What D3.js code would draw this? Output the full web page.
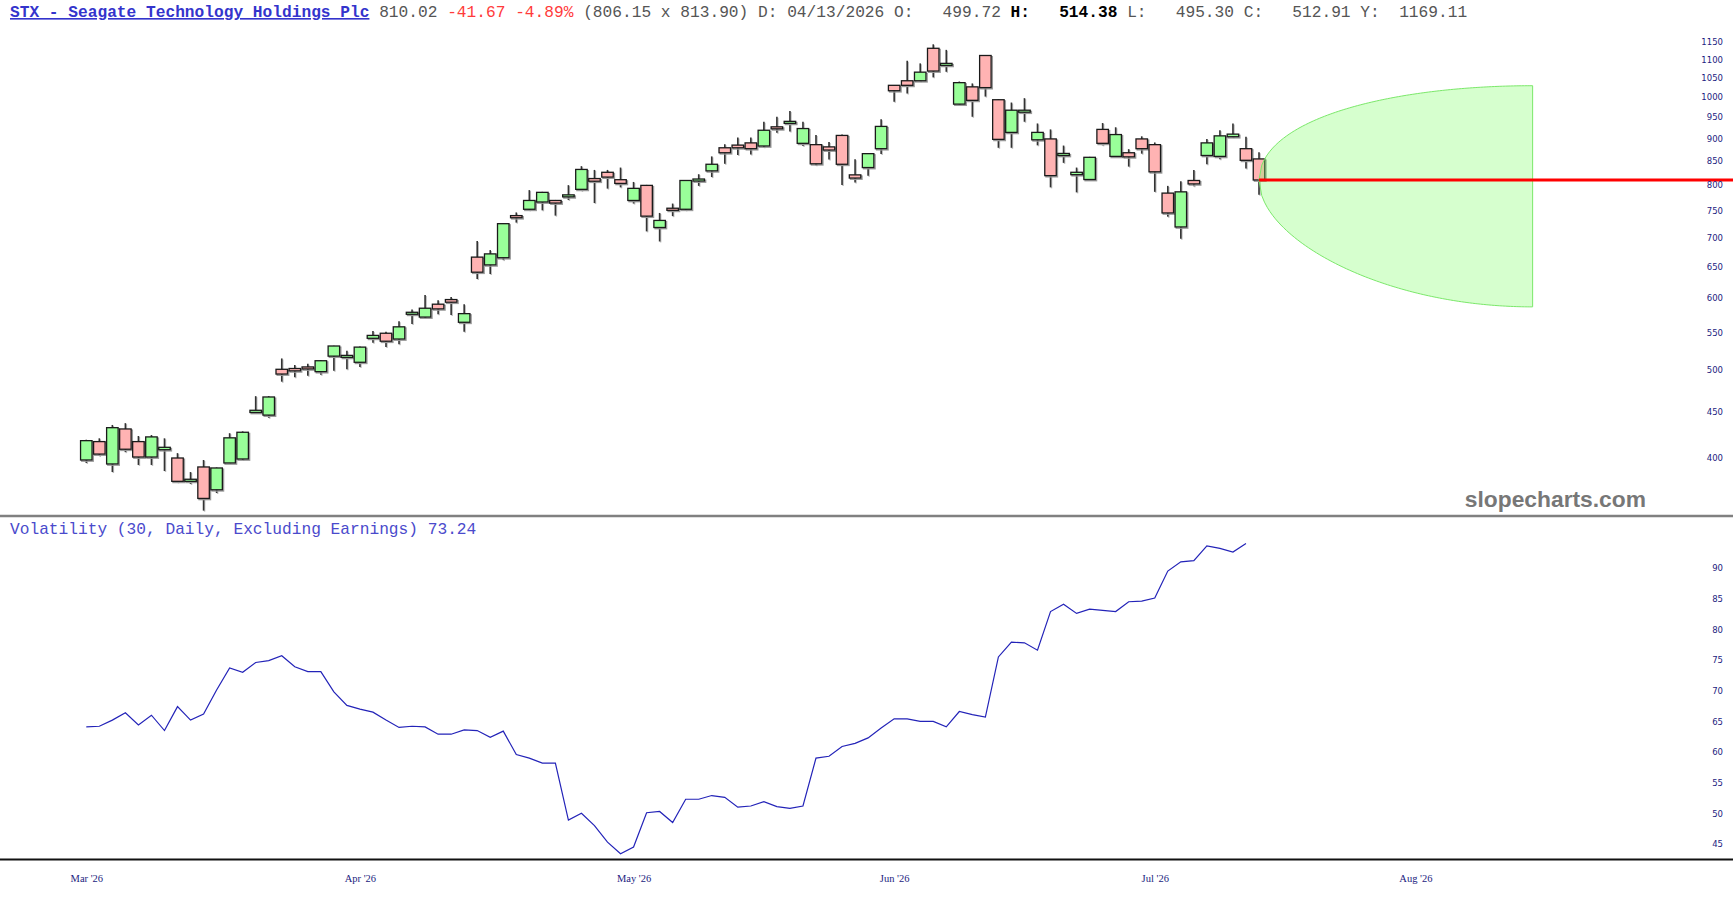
<!DOCTYPE html>
<html>
<head>
<meta charset="utf-8">
<script src="https://cdn.jsdelivr.net/npm/d3@7"></script>
<style>
    body { margin: 0; background: #fff; }
    svg text { white-space: pre; }
</style>
</head>
<body>
<div id="chart"></div>
<script>
//daily candles (one per trading day from early March)
const opens = [
    398, 417, 394, 430.6, 417, 401, 408.5, 400, 377, 391,
    369, 395, 399, 449, 446, 501, 502, 504, 498, 518,
    518.5, 510, 542, 549, 541, 577, 572, 591, 598, 564.5,
    666, 653, 665, 740, 752, 766, 769, 778, 791, 813,
    826, 810.6, 769, 799, 718, 754, 752, 811, 829, 879,
    885, 890, 883, 927, 938, 889, 886, 881, 907, 820.6,
    836, 877, 1030, 1042, 1042, 1131.5, 1086, 982, 1026, 1111,
    993, 914, 964, 897, 899, 862, 821, 811, 921, 860,
    868, 899, 886, 783.5, 719, 809, 862, 860, 904, 877,
    854.5
];
const highs = [
    419, 420.5, 435, 437, 423, 424, 420.5, 405, 386, 398,
    390.5, 426, 428, 468, 468, 515, 506.5, 508, 513, 532,
    525, 531, 552, 551, 566, 583, 605, 597, 602, 591,
    694, 678, 726, 746, 789.5, 786, 770, 799.5, 839, 831,
    831, 836, 806, 800, 745, 763, 810, 822, 860, 887,
    902, 902, 939, 951, 965, 939, 908, 892, 909, 854,
    867, 945, 1031, 1096, 1089, 1143, 1127, 1040, 1035, 1112,
    994, 986, 997, 935, 921, 884, 836, 859, 936, 926,
    876, 905, 891, 798, 807.5, 831, 899, 919, 935, 904,
    869
];
const lows = [
    395, 402, 386, 406, 393, 393, 387, 376, 374.5, 350,
    366, 395, 398, 449, 443, 485.5, 491, 493, 494, 499,
    501, 504, 536, 530, 534, 562, 571, 576, 575, 551,
    630, 638, 661, 727, 750, 750, 740, 770, 788, 764,
    792.5, 795, 763, 711, 693, 739, 750, 798, 816, 844,
    863, 864, 880, 913, 916, 883, 841, 853, 800, 805,
    819, 865, 988, 1009, 1041, 1051, 1066, 981, 951, 1001,
    879, 879, 939, 884.5, 795, 846, 785, 810, 884.5, 859,
    838, 866, 786, 738, 698, 797, 843, 854, 903, 834,
    780
];
const closes = [
    418, 404, 432, 409, 401, 422, 411, 377, 379, 361,
    390, 421, 427, 451.5, 467, 495, 499, 501.5, 512, 531.5,
    519, 530, 546, 538, 558, 579, 585, 584, 594, 577,
    641, 671.5, 725, 736, 769, 785, 764, 780, 832, 807.5,
    816, 803, 793, 739, 731, 750, 809, 812, 843, 868,
    879, 877, 919, 924, 940, 923, 844, 874, 843, 814,
    866, 928, 1016, 1030, 1065, 1068, 1089, 1037, 991.5, 1024,
    898, 967, 967, 914, 819, 866.5, 826, 858, 889, 909,
    859, 877, 827, 745, 786, 802, 890, 906, 910, 851.5,
    810.02
];

//30 day volatility (excluding earnings)
const volatility = [
    64.1, 64.2, 65.2, 66.4, 64.4, 66.0, 63.5, 67.4, 65.2, 66.2,
    70.1, 73.7, 73.0, 74.6, 74.9, 75.7, 73.9, 73.1, 73.1, 69.8,
    67.6, 67.0, 66.5, 65.2, 64.0, 64.2, 64.1, 62.9, 62.9, 63.6,
    63.5, 62.4, 63.4, 59.6, 59.0, 58.2, 58.2, 48.9, 50.0, 48.0,
    45.3, 43.4, 44.5, 50.1, 50.3, 48.5, 52.3, 52.3, 52.9, 52.6,
    51.0, 51.2, 51.9, 51.1, 50.8, 51.2, 59.0, 59.3, 60.9, 61.4,
    62.3, 63.9, 65.4, 65.4, 65.0, 65.0, 64.1, 66.6, 66.1, 65.7,
    75.5, 77.9, 77.8, 76.6, 82.9, 84.1, 82.6, 83.3, 83.1, 82.9,
    84.5, 84.6, 85.1, 89.5, 91.0, 91.2, 93.6, 93.2, 92.6, 94.0
];

//month labels and the bar index where each month starts
const monthLabels = ["Mar '26", "Apr '26", "May '26", "Jun '26", "Jul '26", "Aug '26"];
const monthStarts = [0, 21, 42, 62, 82, 102];

const priceTicks = [400, 450, 500, 550, 600, 650, 700, 750, 800, 850, 900, 950, 1000, 1050, 1100, 1150];
const volTicks = [45, 50, 55, 60, 65, 70, 75, 80, 85, 90];

//expected move cone
const lastPrice = 810.02;
const coneHigh = 1029;
const coneLow = 587;
const coneBars = 21;

//svg size
const width = 1733;
const height = 900;

const svg = d3
    .select("#chart")
    .append("svg")
    .attr("width", width)
    .attr("height", height);

//scales
const x = d3.scaleLinear().domain([0, 90]).range([86.3, 1259]);
const y = d3.scaleLog().domain([400, 1150]).range([458, 41.9]);
const yVol = d3.scaleLinear().domain([45, 90]).range([844, 568]);

const monoFont = "'Liberation Mono', 'DejaVu Sans Mono', monospace";

//header
const header = svg
    .append("text")
    .attr("x", 10)
    .attr("y", 17)
    .attr("font-family", monoFont)
    .attr("font-size", 16.2)
    .attr("fill", "#555");

header
    .append("tspan")
    .attr("fill", "#3434cc")
    .attr("font-weight", "bold")
    .attr("text-decoration", "underline")
    .text("STX - Seagate Technology Holdings Plc");
header.append("tspan").text(" 810.02 ");
header.append("tspan").attr("fill", "#ff3b3b").text("-41.67 -4.89%");
header.append("tspan").text(" (806.15 x 813.90) D: 04/13/2026 O:   499.72 ");
header.append("tspan").attr("fill", "#000").attr("font-weight", "bold").text("H:   514.38");
header.append("tspan").text(" L:   495.30 C:   512.91 Y:  1169.11");

//panel lines
svg.append("line")
    .attr("x1", 0).attr("x2", width)
    .attr("y1", 516).attr("y2", 516)
    .attr("stroke", "#808080")
    .attr("stroke-width", 2.5);

svg.append("line")
    .attr("x1", 0).attr("x2", width)
    .attr("y1", 859.5).attr("y2", 859.5)
    .attr("stroke", "#111")
    .attr("stroke-width", 2);

//watermark
svg.append("text")
    .attr("x", 1646)
    .attr("y", 507)
    .attr("text-anchor", "end")
    .attr("font-family", "'Liberation Sans', Arial, sans-serif")
    .attr("font-weight", "bold")
    .attr("font-size", 22.8)
    .attr("fill", "#777")
    .text("slopecharts.com");

//candles
const candles = d3.range(closes.length).map((i) => ({
    i,
    open: opens[i],
    high: highs[i],
    low: lows[i],
    close: closes[i],
}));

const bodyWidth = 11.5;

const candle = svg
    .append("g")
    .attr("class", "candles")
    .selectAll("g.candle")
    .data(candles)
    .join("g")
    .attr("class", "candle");

//wick shadow + wick
candle
    .append("line")
    .attr("x1", (d) => x(d.i) + 1)
    .attr("x2", (d) => x(d.i) + 1)
    .attr("y1", (d) => y(d.high) + 1)
    .attr("y2", (d) => y(d.low) + 1)
    .attr("stroke", "#bbb")
    .attr("stroke-width", 1.5);

candle
    .append("line")
    .attr("x1", (d) => x(d.i))
    .attr("x2", (d) => x(d.i))
    .attr("y1", (d) => y(d.high))
    .attr("y2", (d) => y(d.low))
    .attr("stroke", "#333")
    .attr("stroke-width", 1.6);

const bodyTop = (d) => y(Math.max(d.open, d.close));
const bodyHeight = (d) => Math.max(2, Math.abs(y(d.open) - y(d.close)));

//body shadow
candle
    .append("rect")
    .attr("x", (d) => x(d.i) - bodyWidth / 2 + 1.2)
    .attr("y", (d) => bodyTop(d) + 1.2)
    .attr("width", bodyWidth)
    .attr("height", bodyHeight)
    .attr("fill", "none")
    .attr("stroke", "#999")
    .attr("stroke-width", 1.4);

candle
    .append("rect")
    .attr("x", (d) => x(d.i) - bodyWidth / 2)
    .attr("y", bodyTop)
    .attr("width", bodyWidth)
    .attr("height", bodyHeight)
    .attr("fill", (d) => (d.close >= d.open ? "#99ff99" : "#ffb3b3"))
    .attr("stroke", "#1a1a1a")
    .attr("stroke-width", 1.3);

//cone of expected move, opening from the last close
const lastIndex = closes.length - 1;
const conePts = d3.range(0, 1.0001, 0.01);
const spread = (t) => Math.sqrt(1 - (1 - t) * (1 - t));

const upper = conePts.map((t) => [
    x(lastIndex + coneBars * t),
    y(lastPrice + (coneHigh - lastPrice) * spread(t)),
]);
const lower = conePts
    .map((t) => [
        x(lastIndex + coneBars * t),
        y(lastPrice - (lastPrice - coneLow) * spread(t)),
    ])
    .reverse();

svg.append("path")
    .attr("d", d3.line()(upper.concat(lower)) + "Z")
    .attr("fill", "#7fff66")
    .attr("fill-opacity", 0.32)
    .attr("stroke", "#7be86a")
    .attr("stroke-width", 1);

//last price line
svg.append("line")
    .attr("x1", x(lastIndex))
    .attr("x2", width)
    .attr("y1", y(lastPrice))
    .attr("y2", y(lastPrice))
    .attr("stroke", "#ff0000")
    .attr("stroke-width", 3);

//price axis on the right
const priceAxis = svg
    .append("g")
    .attr("transform", "translate(1726,0)")
    .call(
        d3.axisLeft(y)
            .tickValues(priceTicks)
            .tickSize(0)
            .tickPadding(3)
            .tickFormat(d3.format("d"))
    );

//volatility panel
svg.append("text")
    .attr("x", 10)
    .attr("y", 534)
    .attr("font-family", monoFont)
    .attr("font-size", 16.2)
    .attr("fill", "#4a4acc")
    .text("Volatility (30, Daily, Excluding Earnings) 73.24");

svg.append("path")
    .datum(volatility)
    .attr("fill", "none")
    .attr("stroke", "#2323b8")
    .attr("stroke-width", 1.2)
    .attr(
        "d",
        d3.line()
            .x((d, i) => x(i))
            .y((d) => yVol(d))
    );

const volAxis = svg
    .append("g")
    .attr("transform", "translate(1726,0)")
    .call(d3.axisLeft(yVol).tickValues(volTicks).tickSize(0).tickPadding(3));

//month axis
const timeAxis = svg
    .append("g")
    .attr("transform", "translate(0,875)")
    .call(
        d3.axisBottom(x)
            .tickValues(monthStarts)
            .tickSize(0)
            .tickPadding(0)
            .tickFormat((d, i) => monthLabels[i])
    );

[priceAxis, volAxis, timeAxis].forEach((g) => g.select(".domain").remove());

[priceAxis, volAxis].forEach((g) =>
    g
        .selectAll("text")
        .attr("font-family", "'DejaVu Sans', Verdana, sans-serif")
        .attr("font-size", 8.5)
        .attr("fill", "#1c1c80")
);

timeAxis
    .selectAll("text")
    .attr("font-family", "'Liberation Serif', 'Times New Roman', serif")
    .attr("font-size", 10.5)
    .attr("fill", "#1c1c80");
</script>
</body>
</html>
